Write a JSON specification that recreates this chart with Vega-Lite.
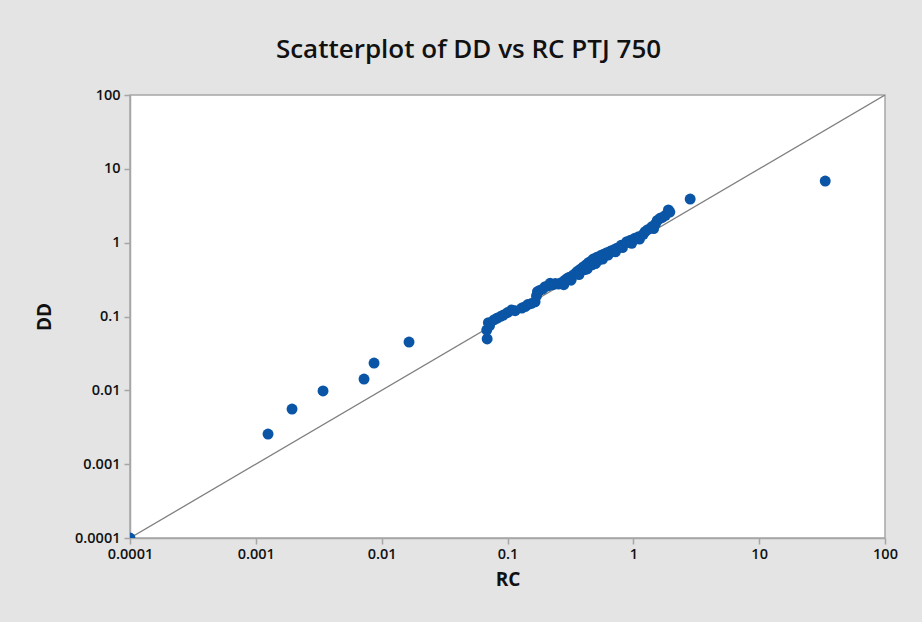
{
  "$schema": "https://vega.github.io/schema/vega-lite/v6.json",
  "autosize": {"type": "none"},
  "width": 755,
  "height": 443,
  "padding": {"left": 130, "top": 95, "right": 37, "bottom": 84},
  "background": "#e4e4e4",
  "title": {
    "text": "Scatterplot of DD vs RC PTJ 750",
    "anchor": "middle",
    "dx": -39,
    "offset": 24,
    "font": "Open Sans",
    "fontSize": 26,
    "fontWeight": 600,
    "color": "#111111"
  },
  "config": {
    "view": {"stroke": "#a6a6a6", "strokeWidth": 1.5, "fill": "white"},
    "axis": {
      "grid": false,
      "domainColor": "#a6a6a6",
      "domainWidth": 1.5,
      "tickColor": "#a6a6a6",
      "tickSize": 6,
      "tickWidth": 1.5,
      "labelFont": "Open Sans",
      "labelFontSize": 14.5,
      "labelFontWeight": 600,
      "labelColor": "#111111",
      "titleFont": "Open Sans",
      "titleFontSize": 19,
      "titleFontWeight": 700,
      "titleColor": "#111111"
    }
  },
  "datasets": {
    "pts": [
      {"RC": 0.0001, "DD": 0.0001},
      {"RC": 0.00125, "DD": 0.00256},
      {"RC": 0.00194, "DD": 0.00558},
      {"RC": 0.00342, "DD": 0.0098},
      {"RC": 0.00724, "DD": 0.0142},
      {"RC": 0.0087, "DD": 0.0234},
      {"RC": 0.0165, "DD": 0.0451},
      {"RC": 0.0689, "DD": 0.0496},
      {"RC": 0.0684, "DD": 0.0656},
      {"RC": 0.072, "DD": 0.075},
      {"RC": 0.0705, "DD": 0.0824},
      {"RC": 0.078, "DD": 0.09},
      {"RC": 0.0822, "DD": 0.0944},
      {"RC": 0.088, "DD": 0.1},
      {"RC": 0.0927, "DD": 0.1047},
      {"RC": 0.1, "DD": 0.113},
      {"RC": 0.108, "DD": 0.1225},
      {"RC": 0.115, "DD": 0.12},
      {"RC": 0.13, "DD": 0.13},
      {"RC": 0.138, "DD": 0.136},
      {"RC": 0.145, "DD": 0.145},
      {"RC": 0.155, "DD": 0.15},
      {"RC": 0.1656, "DD": 0.158},
      {"RC": 0.17, "DD": 0.19},
      {"RC": 0.173, "DD": 0.217},
      {"RC": 0.18, "DD": 0.225},
      {"RC": 0.19, "DD": 0.235},
      {"RC": 0.199, "DD": 0.253},
      {"RC": 0.21, "DD": 0.26},
      {"RC": 0.218, "DD": 0.282},
      {"RC": 0.23, "DD": 0.27},
      {"RC": 0.24, "DD": 0.28},
      {"RC": 0.254, "DD": 0.275},
      {"RC": 0.27, "DD": 0.29},
      {"RC": 0.28, "DD": 0.27},
      {"RC": 0.287, "DD": 0.312},
      {"RC": 0.3, "DD": 0.33},
      {"RC": 0.31, "DD": 0.34},
      {"RC": 0.32, "DD": 0.31},
      {"RC": 0.334, "DD": 0.365},
      {"RC": 0.35, "DD": 0.39},
      {"RC": 0.36, "DD": 0.41},
      {"RC": 0.37, "DD": 0.37},
      {"RC": 0.379, "DD": 0.436},
      {"RC": 0.4, "DD": 0.47},
      {"RC": 0.41, "DD": 0.43},
      {"RC": 0.42, "DD": 0.5},
      {"RC": 0.43, "DD": 0.44},
      {"RC": 0.44, "DD": 0.535},
      {"RC": 0.46, "DD": 0.56},
      {"RC": 0.47, "DD": 0.5},
      {"RC": 0.48, "DD": 0.6},
      {"RC": 0.5, "DD": 0.52},
      {"RC": 0.513, "DD": 0.634},
      {"RC": 0.53, "DD": 0.58},
      {"RC": 0.55, "DD": 0.67},
      {"RC": 0.57, "DD": 0.6},
      {"RC": 0.58, "DD": 0.7},
      {"RC": 0.616, "DD": 0.731},
      {"RC": 0.63, "DD": 0.68},
      {"RC": 0.66, "DD": 0.77},
      {"RC": 0.7, "DD": 0.8},
      {"RC": 0.72, "DD": 0.75},
      {"RC": 0.739, "DD": 0.839},
      {"RC": 0.8, "DD": 0.92},
      {"RC": 0.82, "DD": 0.86},
      {"RC": 0.887, "DD": 1.03},
      {"RC": 0.95, "DD": 1.08},
      {"RC": 0.97, "DD": 0.98},
      {"RC": 1.03, "DD": 1.15},
      {"RC": 1.1, "DD": 1.2},
      {"RC": 1.12, "DD": 1.12},
      {"RC": 1.2, "DD": 1.3},
      {"RC": 1.24, "DD": 1.41},
      {"RC": 1.3, "DD": 1.5},
      {"RC": 1.4, "DD": 1.64},
      {"RC": 1.45, "DD": 1.55},
      {"RC": 1.5, "DD": 1.8},
      {"RC": 1.55, "DD": 2.0},
      {"RC": 1.63, "DD": 2.14},
      {"RC": 1.7, "DD": 2.2},
      {"RC": 1.8, "DD": 2.35},
      {"RC": 1.9, "DD": 2.77},
      {"RC": 1.95, "DD": 2.6},
      {"RC": 2.83, "DD": 3.9},
      {"RC": 33.5, "DD": 6.84}
    ],
    "diag": [
      {"RC": 0.0001, "DD": 0.0001},
      {"RC": 100, "DD": 100}
    ]
  },
  "encoding": {
    "x": {
      "field": "RC",
      "type": "quantitative",
      "title": "RC",
      "scale": {"type": "log", "domain": [0.0001, 100], "nice": false},
      "axis": {
        "values": [0.0001, 0.001, 0.01, 0.1, 1, 10, 100],
        "format": "~g",
        "labelPadding": 3,
        "titlePadding": 10,
        "labelFlush": false
      }
    },
    "y": {
      "field": "DD",
      "type": "quantitative",
      "title": "DD",
      "scale": {"type": "log", "domain": [0.0001, 100], "nice": false},
      "axis": {
        "values": [0.0001, 0.001, 0.01, 0.1, 1, 10, 100],
        "format": "~g",
        "labelPadding": 4,
        "titlePadding": 20,
        "labelFlush": false
      }
    }
  },
  "layer": [
    {
      "data": {"name": "diag"},
      "mark": {"type": "line", "color": "#808080", "strokeWidth": 1.3, "clip": true}
    },
    {
      "data": {"name": "pts"},
      "mark": {"type": "point", "filled": true, "opacity": 1, "size": 120, "color": "#0a55a5", "clip": true}
    }
  ]
}
